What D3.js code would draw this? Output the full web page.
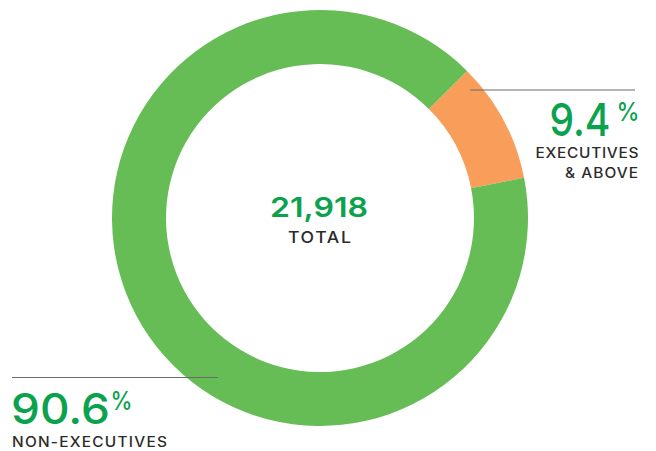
<!DOCTYPE html>
<html>
<head>
<meta charset="utf-8">
<script src="https://cdn.jsdelivr.net/npm/d3@7"></script>
<style>
  html, body { margin: 0; padding: 0; background: #fff; }
  svg { display: block; font-family: Inter, "Open Sans", sans-serif; }
</style>
</head>
<body>
<svg id="chart" width="656" height="451"></svg>
<script>
// Workforce composition
const categories = ["EXECUTIVES & ABOVE", "NON-EXECUTIVES"];
const shares = [9.4, 90.6];
const sliceColors = ["#F89E5A", "#66BD56"];
const totalLabel = "21,918";
const totalCaption = "TOTAL";

const svg = d3.select("#chart");
const cx = 320, cy = 218;
const outerR = 208, innerR = 154;
const textGreen = "#0BA24E";
const textDark = "#2b2b2b";
const fmt = d3.format(".1f");

const pie = d3.pie().sort(null).value(d => d)
  .startAngle(Math.PI / 4).endAngle(Math.PI / 4 + 2 * Math.PI);
const arc = d3.arc().innerRadius(innerR).outerRadius(outerR);

const g = svg.append("g").attr("transform", `translate(${cx},${cy})`);
g.selectAll("path")
  .data(pie(shares))
  .join("path")
  .attr("d", arc)
  .attr("fill", (d, i) => sliceColors[i]);

// Text placed at (x, baseline y) and fitted to a given width:
// glyphs are widened up to maxScale, any remainder goes into letter spacing.
function label(x, y, str, size, width, color, weight, maxScale) {
  const t = svg.append("text")
    .attr("font-size", size)
    .attr("font-weight", weight || 500)
    .attr("fill", color)
    .text(str);
  const natural = t.node().getComputedTextLength();
  const s = Math.min(maxScale, width / natural);
  if (str.length > 1) {
    t.attr("letter-spacing", (width - natural * s) / (str.length - 1) / s);
  }
  t.attr("transform", `translate(${x},${y}) scale(${s},1)`);
  return t;
}

// Centre total
label(270, 216.7, totalLabel, 27.5, 98, textGreen, 600, 2);
label(288, 242.7, totalCaption, 16, 63, textDark, 500, 1.1);

// Leader lines
const lineColor = "#6b6b6b";
svg.append("line").attr("x1", 470).attr("x2", 635).attr("y1", 90).attr("y2", 90)
  .attr("stroke", lineColor).attr("stroke-width", 1.2);
svg.append("line").attr("x1", 12).attr("x2", 218).attr("y1", 377.5).attr("y2", 377.5)
  .attr("stroke", lineColor).attr("stroke-width", 1.2);

// Executives & above
label(549.5, 135.7, fmt(shares[0]), 45, 61, textGreen, 500, 2);
label(616.5, 121, "%", 26, 23, textGreen, 500, 2);
const rightLines = ["EXECUTIVES", "& ABOVE"];
const rightSpans = [[535.5, 103], [565, 73]];
rightLines.forEach((t, i) =>
  label(rightSpans[i][0], 157.5 + i * 20.5, t, 14, rightSpans[i][1], textDark, 500, 1.1));

// Non-executives
label(11, 424, fmt(shares[1]), 43, 99, textGreen, 500, 2);
label(110.5, 409.5, "%", 25, 22, textGreen, 500, 2);
label(12, 446.5, categories[1], 14, 155, textDark, 500, 1.1);
</script>
</body>
</html>
